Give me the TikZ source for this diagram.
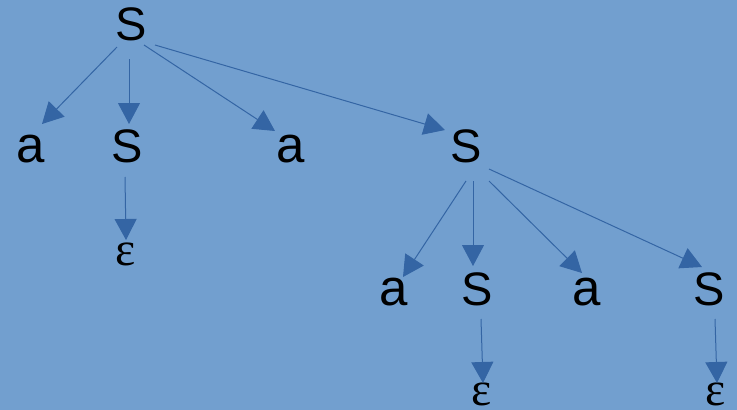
\documentclass[tikz,border=0pt]{standalone}
\usepackage{fontspec}
\setmainfont{Liberation Sans}
\newfontfamily\epsfont{Liberation Serif}
\usetikzlibrary{arrows.meta,calc}
\definecolor{bgblue}{HTML}{729FCF}
\definecolor{arrblue}{HTML}{3465A4}
\tikzset{
  sym/.style={anchor=base, inner sep=0pt, font=\fontsize{47}{50}\selectfont, text=black},
  asym/.style={anchor=base, inner sep=0pt, font=\fontsize{51}{54}\selectfont, text=black},
  eps/.style={anchor=base, inner sep=0pt, font=\epsfont\fontsize{48}{50}\selectfont, text=black},
  arr/.style={draw=arrblue, line width=1pt, -{Triangle[length=21pt,width=22pt]}, fill=none},
}
\begin{document}
\begin{tikzpicture}[x=1pt,y=-1pt]
\fill[bgblue] (0,0) rectangle (737,410);
\useasboundingbox (0,0) rectangle (737,410);
% nodes
\node[sym] (s0) at (131,40) {S};
\node[asym] (a1) at (31,162) {a};
\node[sym] (s1) at (127.5,162) {S};
\node[asym] (a2) at (291,162) {a};
\node[sym] (s2) at (466,162) {S};
\node[eps] (e1) at (126,265) {ε};
\node[asym] (a3) at (394,305) {a};
\node[sym] (s3) at (477,305) {S};
\node[asym] (a4) at (587,305) {a};
\node[sym] (s4) at (709,305) {S};
\node[eps] (e2) at (482,405) {ε};
\node[eps] (e3) at (716,405) {ε};
% connectors
\draw[arr] ([shift={(-14,7)}]s0.base) -- ([shift={(11,-38)}]a1.base);
\draw[arr] ([shift={(-2,19)}]s0.base) -- ([shift={(1.5,-38)}]s1.base);
\draw[arr] ([shift={(13,5)}]s0.base) -- ([shift={(-16,-31)}]a2.base);
\draw[arr] ([shift={(24,5)}]s0.base) -- ([shift={(-21,-32)}]s2.base);
\draw[arr] ([shift={(-2.5,15)}]s1.base) -- ([shift={(0,-25)}]e1.base);
\draw[arr] ([shift={(0,19)}]s2.base) -- ([shift={(9,-28)}]a3.base);
\draw[arr] ([shift={(7,19)}]s2.base) -- ([shift={(-4,-39)}]s3.base);
\draw[arr] ([shift={(23,19)}]s2.base) -- ([shift={(-5,-32)}]a4.base);
\draw[arr] ([shift={(23,7)}]s2.base) -- ([shift={(-7,-38)}]s4.base);
\draw[arr] ([shift={(4,14)}]s3.base) -- ([shift={(1,-22)}]e2.base);
\draw[arr] ([shift={(6,14)}]s4.base) -- ([shift={(1,-22)}]e3.base);
\end{tikzpicture}
\end{document}
